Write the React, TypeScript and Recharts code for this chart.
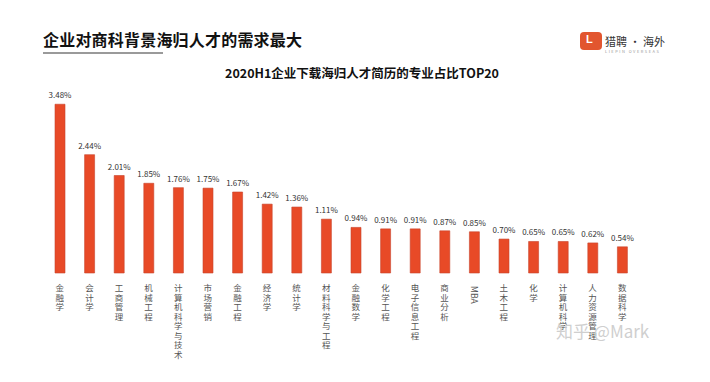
import { BarChart, Bar, XAxis, YAxis, LabelList } from 'recharts'

const majors = [
  '金融学', '会计学', '工商管理', '机械工程', '计算机科学与技术', '市场营销', '金融工程', '经济学', '统计学', '材料科学与工程',
  '金融数学', '化学工程', '电子信息工程', '商业分析', 'MBA', '土木工程', '化学', '计算机科学', '人力资源管理', '数据科学',
]
const shares = [3.48, 2.44, 2.01, 1.85, 1.76, 1.75, 1.67, 1.42, 1.36, 1.11, 0.94, 0.91, 0.91, 0.87, 0.85, 0.7, 0.65, 0.65, 0.62, 0.54]

const data = majors.map((name, i) => ({ name, value: shares[i] }))

const font = '"Noto Sans CJK SC", "Noto Sans", sans-serif'

function VerticalTick({ x, y, payload }: any) {
  const label: string = payload.value
  if (/^[A-Za-z]+$/.test(label)) {
    return (
      <text
        x={x - 3}
        y={y + 5}
        transform={`rotate(90 ${x - 3} ${y + 5})`}
        fontSize={8.5}
        fill="#555"
        fontFamily={font}
      >
        {label}
      </text>
    )
  }
  // stack characters top to bottom in one text element
  return (
    <text x={x} y={y + 10} textAnchor="middle" fontSize={8.5} fill="#555" fontFamily={font}>
      {label.split('').map((ch, i) => (
        <tspan key={i} x={x} dy={i === 0 ? 0 : 9.5}>
          {ch}
        </tspan>
      ))}
    </text>
  )
}

export default function App() {
  return (
    <div style={{ position: 'absolute', left: 0, top: 0, width: 710, height: 382, background: '#fff', fontFamily: font }}>
      <div style={{ position: 'absolute', left: 43, top: 27, fontSize: 16, fontWeight: 700, color: '#111', letterSpacing: 0.2 }}>
        企业对商科背景海归人才的需求最大
      </div>
      <div style={{ position: 'absolute', left: 43, top: 52, width: 120, height: 2, background: '#9a9a9a' }} />
      <div style={{ position: 'absolute', left: 0, width: 724, top: 63, textAlign: 'center', fontSize: 12.5, fontWeight: 700, color: '#111' }}>
        2020H1企业下载海归人才简历的专业占比TOP20
      </div>
      <div style={{ position: 'absolute', left: 580, top: 32, width: 22, height: 18, borderRadius: 4, background: '#e2562f' }}>
        <div style={{ position: 'absolute', left: 6, top: 1, color: '#fff', fontSize: 11, fontWeight: 700, fontFamily: 'Arial' }}>L</div>
      </div>
      <div style={{ position: 'absolute', left: 605, top: 33, fontSize: 11, color: '#333' }}>猎聘 · 海外</div>
      <div style={{ position: 'absolute', left: 605, top: 48, fontSize: 4, color: '#999', letterSpacing: 1.5 }}>LIEPIN OVERSEAS</div>
      <BarChart width={710} height={382} data={data} margin={{ top: 79, right: 73, bottom: 9, left: 45 }}>
        <XAxis
          dataKey="name"
          interval={0}
          axisLine={false}
          tickLine={false}
          tick={<VerticalTick />}
          height={100}
        />
        <YAxis hide domain={[0, 4]} />
        <Bar dataKey="value" fill="#e84a27" stroke="#c8432b" strokeWidth={0.6} barSize={10} isAnimationActive={false}>
          <LabelList
            dataKey="value"
            position="top"
            offset={6}
            fontSize={8}
            fill="#333"
            fontFamily={font}
            formatter={(v: any) => `${Number(v).toFixed(2)}%`}
          />
        </Bar>
      </BarChart>
      <div style={{ position: 'absolute', left: 556, top: 318, fontSize: 17, color: '#cfcfcf', fontFamily: font }}>
        知乎 @Mark
      </div>
    </div>
  )
}
